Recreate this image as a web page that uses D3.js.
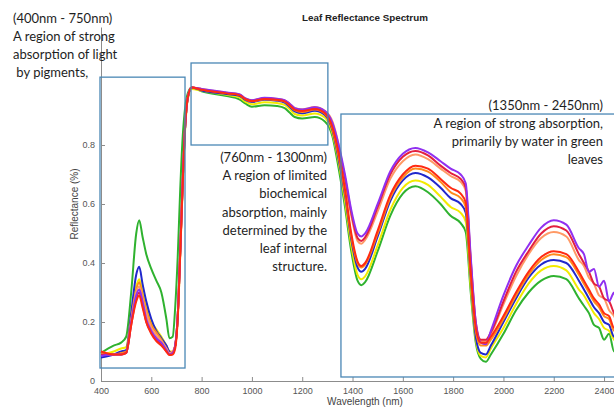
<!DOCTYPE html>
<html>
<head>
<meta charset="utf-8">
<script src="https://cdn.jsdelivr.net/npm/d3@7"></script>
<style>
  body { margin: 0; background: #fff; }
  svg { display: block; }
</style>
</head>
<body>
<svg id="chart" width="614" height="408"></svg>
<script>
// wavelengths (nm) shared by every sample
var wavelengths = [400, 450, 480, 500, 520, 540, 552, 565, 580, 600, 620, 640, 660, 672, 685,
  695, 705, 715, 725, 735, 745, 760,
  800, 900, 950, 975, 1000, 1050, 1100, 1130, 1150, 1170, 1200, 1250, 1290, 1320, 1345,
  1370, 1395, 1420, 1435, 1450,
  1500, 1550, 1600, 1650, 1700, 1750, 1790, 1830, 1850,
  1870, 1890, 1910, 1930, 1950, 2000, 2050, 2100, 2150, 2200,
  2250, 2300, 2320, 2340, 2360, 2380, 2400, 2420, 2440, 2450];

// reflectance, one array per leaf sample
var reflGreen = [0.095, 0.12, 0.13, 0.15, 0.30, 0.50, 0.545, 0.49, 0.43, 0.38, 0.34, 0.30, 0.21, 0.145, 0.15,
  0.25, 0.42, 0.65, 0.83, 0.93, 0.975, 0.995,
  0.982, 0.966, 0.955, 0.94, 0.93, 0.935, 0.932, 0.925, 0.91, 0.895, 0.89, 0.895, 0.88, 0.83, 0.72,
  0.59, 0.44, 0.34, 0.325, 0.335,
  0.44, 0.56, 0.635, 0.66, 0.64, 0.60, 0.56, 0.535, 0.505,
  0.30, 0.13, 0.075, 0.065, 0.09, 0.16, 0.24, 0.30, 0.34, 0.356,
  0.345, 0.28, 0.255, 0.23, 0.19, 0.18, 0.14, 0.16, 0.10, 0.12];
var reflYellow = [0.09, 0.10, 0.11, 0.115, 0.22, 0.32, 0.345, 0.30, 0.25, 0.20, 0.175, 0.15, 0.12, 0.10, 0.10,
  0.12, 0.21, 0.43, 0.67, 0.86, 0.955, 0.99,
  0.984, 0.97, 0.962, 0.946, 0.938, 0.945, 0.942, 0.936, 0.922, 0.905, 0.90, 0.907, 0.893, 0.84, 0.74,
  0.61, 0.46, 0.36, 0.345, 0.355,
  0.46, 0.58, 0.655, 0.68, 0.665, 0.625, 0.59, 0.57, 0.54,
  0.32, 0.14, 0.085, 0.08, 0.11, 0.18, 0.26, 0.33, 0.375, 0.39,
  0.375, 0.31, 0.29, 0.26, 0.23, 0.21, 0.18, 0.17, 0.14, 0.13];
var reflBlue = [0.08, 0.09, 0.10, 0.105, 0.23, 0.36, 0.387, 0.33, 0.27, 0.21, 0.17, 0.145, 0.12, 0.10, 0.095,
  0.12, 0.22, 0.44, 0.68, 0.87, 0.96, 0.995,
  0.985, 0.973, 0.967, 0.952, 0.946, 0.953, 0.95, 0.944, 0.93, 0.914, 0.908, 0.916, 0.902, 0.85, 0.75,
  0.63, 0.48, 0.385, 0.37, 0.38,
  0.49, 0.61, 0.68, 0.705, 0.69, 0.655, 0.62, 0.60, 0.57,
  0.35, 0.15, 0.095, 0.09, 0.12, 0.20, 0.28, 0.35, 0.395, 0.41,
  0.40, 0.34, 0.31, 0.28, 0.25, 0.23, 0.20, 0.19, 0.15, 0.15];
var reflOrange = [0.10, 0.09, 0.095, 0.10, 0.21, 0.31, 0.335, 0.29, 0.24, 0.19, 0.165, 0.14, 0.11, 0.095, 0.10,
  0.12, 0.22, 0.44, 0.68, 0.87, 0.96, 0.995,
  0.988, 0.976, 0.97, 0.955, 0.948, 0.955, 0.952, 0.947, 0.934, 0.918, 0.912, 0.92, 0.906, 0.855, 0.76,
  0.64, 0.49, 0.40, 0.385, 0.395,
  0.50, 0.62, 0.69, 0.72, 0.71, 0.675, 0.64, 0.62, 0.59,
  0.36, 0.17, 0.12, 0.12, 0.14, 0.21, 0.29, 0.36, 0.41, 0.43,
  0.42, 0.36, 0.33, 0.30, 0.27, 0.25, 0.22, 0.21, 0.17, 0.17];
var reflSalmon = [0.09, 0.09, 0.09, 0.095, 0.20, 0.30, 0.32, 0.28, 0.23, 0.18, 0.155, 0.135, 0.11, 0.095, 0.10,
  0.12, 0.22, 0.44, 0.68, 0.87, 0.96, 0.995,
  0.99, 0.977, 0.971, 0.957, 0.951, 0.959, 0.956, 0.951, 0.94, 0.926, 0.921, 0.929, 0.916, 0.88, 0.80,
  0.68, 0.56, 0.475, 0.465, 0.478,
  0.575, 0.685, 0.745, 0.768, 0.752, 0.72, 0.695, 0.675, 0.645,
  0.40, 0.19, 0.135, 0.135, 0.16, 0.26, 0.355, 0.43, 0.485, 0.505,
  0.49, 0.41, 0.39, 0.35, 0.33, 0.29, 0.28, 0.24, 0.22, 0.20];
var reflCrimson = [0.09, 0.09, 0.09, 0.095, 0.19, 0.28, 0.30, 0.26, 0.20, 0.165, 0.14, 0.125, 0.10, 0.09, 0.095,
  0.12, 0.22, 0.44, 0.68, 0.87, 0.96, 0.995,
  0.988, 0.976, 0.97, 0.956, 0.95, 0.958, 0.955, 0.95, 0.937, 0.922, 0.918, 0.926, 0.913, 0.87, 0.79,
  0.69, 0.57, 0.485, 0.475, 0.487,
  0.59, 0.70, 0.76, 0.78, 0.765, 0.73, 0.705, 0.685, 0.655,
  0.41, 0.20, 0.14, 0.14, 0.165, 0.27, 0.37, 0.44, 0.50, 0.525,
  0.51, 0.43, 0.40, 0.37, 0.33, 0.32, 0.28, 0.27, 0.23, 0.22];
var reflViolet = [0.085, 0.09, 0.09, 0.095, 0.20, 0.29, 0.31, 0.27, 0.21, 0.17, 0.145, 0.13, 0.105, 0.09, 0.095,
  0.12, 0.22, 0.44, 0.68, 0.87, 0.96, 0.995,
  0.99, 0.978, 0.972, 0.958, 0.952, 0.96, 0.957, 0.952, 0.94, 0.925, 0.92, 0.928, 0.915, 0.875, 0.80,
  0.70, 0.58, 0.50, 0.49, 0.50,
  0.60, 0.71, 0.77, 0.79, 0.775, 0.745, 0.72, 0.70, 0.67,
  0.42, 0.20, 0.13, 0.125, 0.17, 0.29, 0.39, 0.46, 0.52, 0.545,
  0.53, 0.45, 0.43, 0.37, 0.38, 0.32, 0.34, 0.27, 0.30, 0.24];
var reflRed = [0.10, 0.09, 0.09, 0.095, 0.19, 0.27, 0.29, 0.25, 0.20, 0.16, 0.135, 0.12, 0.10, 0.088, 0.09,
  0.11, 0.21, 0.43, 0.67, 0.87, 0.96, 0.995,
  0.987, 0.975, 0.969, 0.955, 0.949, 0.956, 0.953, 0.948, 0.935, 0.92, 0.915, 0.922, 0.908, 0.86, 0.77,
  0.65, 0.50, 0.405, 0.39, 0.40,
  0.51, 0.63, 0.70, 0.73, 0.72, 0.685, 0.655, 0.635, 0.605,
  0.37, 0.18, 0.13, 0.13, 0.15, 0.22, 0.30, 0.37, 0.42, 0.44,
  0.43, 0.37, 0.34, 0.31, 0.28, 0.26, 0.23, 0.22, 0.18, 0.18];

// drawing order, red ends on top
var sampleValues = [reflGreen, reflYellow, reflBlue, reflOrange, reflSalmon, reflCrimson, reflViolet, reflRed];
var sampleColors = ["#2fb22f", "#f3ea00", "#2028cc", "#ff8a1c", "#ff9a66", "#e3203f", "#9030f0", "#ff2a12"];

var xTicks = [400, 600, 800, 1000, 1200, 1400, 1600, 1800, 2000, 2200, 2400];
var yTicks = [0, 0.2, 0.4, 0.6, 0.8];

var titleText = "Leaf Reflectance Spectrum";
var xLabel = "Wavelength (nm)";
var yLabel = "Reflectance (%)";

var noteVisible = ["(400nm - 750nm)", "A region of strong", "absorption of light", " by pigments,"];
var noteNir = ["(760nm - 1300nm)", "A region of limited", "biochemical", "absorption, mainly",
  "determined by the", "leaf internal", "structure."];
var noteSwir = ["(1350nm - 2450nm)", "A region of strong absorption,", "primarily by water in green", "leaves"];

var svg = d3.select("#chart");

var x = d3.scaleLinear().domain([400, 2500]).range([101, 629.2]);
var y = d3.scaleLinear().domain([0, 1.2]).range([381, 27]);

var axisColor = "#8c8c8c", tickText = "#555";

var gx = svg.append("g")
    .attr("transform", "translate(0,381)")
    .call(d3.axisBottom(x).tickValues(xTicks).tickSizeInner(-4).tickSizeOuter(0).tickPadding(7)
      .tickFormat(d3.format("d")));
var gy = svg.append("g")
    .attr("transform", "translate(101,0)")
    .call(d3.axisLeft(y).tickValues(yTicks).tickSizeInner(-4).tickSizeOuter(0).tickPadding(6)
      .tickFormat(function(d){ return d === 0 ? "0" : d.toFixed(1); }));

[gx, gy].forEach(function(g){
    g.select(".domain").attr("stroke", axisColor);
    g.selectAll(".tick line").attr("stroke", axisColor);
    g.selectAll(".tick text")
        .attr("fill", tickText)
        .style("font-family", "'Liberation Sans', Arial, sans-serif")
        .style("font-size", "9px");
});

// curves
var line = d3.line()
    .x(function(d){ return x(d[0]); })
    .y(function(d){ return y(d[1]); })
    .curve(d3.curveMonotoneX);

svg.append("g").selectAll("path")
    .data(sampleValues)
    .enter().append("path")
    .attr("d", function(vals){ return line(wavelengths.map(function(w, i){ return [w, vals[i]]; })); })
    .attr("fill", "none")
    .attr("stroke", function(d, i){ return sampleColors[i]; })
    .attr("stroke-width", 2)
    .attr("stroke-linejoin", "round");

// region boxes (wavelength from/to, reflectance top/bottom)
var regions = [
    {w0: 396, w1: 734, top: 1.03, bottom: 0.044},
    {w0: 758, w1: 1302, top: 1.078, bottom: 0.80},
    {w0: 1354, w1: 2500, top: 0.905, bottom: 0.0136}
];
svg.append("g").selectAll("rect")
    .data(regions)
    .enter().append("rect")
    .attr("x", function(d){ return x(d.w0); })
    .attr("y", function(d){ return y(d.top); })
    .attr("width", function(d){ return x(d.w1) - x(d.w0); })
    .attr("height", function(d){ return y(d.bottom) - y(d.top); })
    .attr("fill", "none")
    .attr("stroke", "#4a87b5")
    .attr("stroke-width", 1.3);

// titles
svg.append("text")
    .attr("x", 365).attr("y", 21)
    .attr("text-anchor", "middle")
    .style("font-family", "'Liberation Sans', Arial, sans-serif")
    .style("font-size", "9.8px").style("font-weight", "bold")
    .attr("fill", "#222")
    .text(titleText);

svg.append("text")
    .attr("x", 365).attr("y", 405)
    .attr("text-anchor", "middle")
    .style("font-family", "'Liberation Sans', Arial, sans-serif")
    .style("font-size", "10px")
    .attr("fill", "#444")
    .text(xLabel);

svg.append("text")
    .attr("transform", "translate(78,204) rotate(-90)")
    .attr("text-anchor", "middle")
    .style("font-family", "'Liberation Sans', Arial, sans-serif")
    .style("font-size", "10px")
    .attr("fill", "#444")
    .text(yLabel);

// annotation text blocks
function note(lines, px, py, anchor){
    var t = svg.append("text")
        .attr("text-anchor", anchor)
        .style("font-family", "Lato, 'Open Sans', sans-serif")
        .style("font-size", "13px")
        .style("white-space", "pre")
        .attr("fill", "#1e1e1e");
    lines.forEach(function(s, i){
        t.append("tspan").attr("x", px).attr("y", py + i * 18.2).text(s);
    });
}
note(noteVisible, 13, 22.5, "start");
note(noteNir, 327, 162, "end");
note(noteSwir, 603, 109.5, "end");
</script>
</body>
</html>
